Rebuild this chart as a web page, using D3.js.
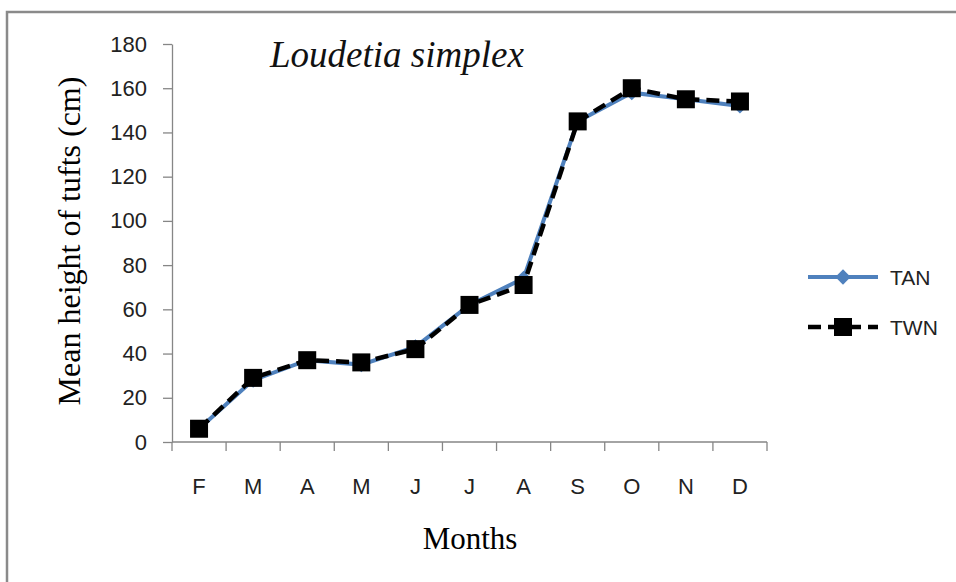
<!DOCTYPE html>
<html>
<head>
<meta charset="utf-8">
<script src="https://cdn.jsdelivr.net/npm/d3@7"></script>
<style>
  html, body { margin: 0; padding: 0; background: #fff; }
  svg { display: block; }
</style>
</head>
<body>
<div id="chart"></div>
<script>
// Data
const months = ["F", "M", "A", "M", "J", "J", "A", "S", "O", "N", "D"];
const tanValues = [6, 28, 37, 35, 43, 62, 74, 145, 158, 155, 152];
const twnValues = [6, 29, 37, 36, 42, 62, 71, 145, 160, 155, 154];
const yTicks = [0, 20, 40, 60, 80, 100, 120, 140, 160, 180];
const seriesNames = ["TAN", "TWN"];

const width = 956, height = 582;
const plot = { left: 172, right: 767, top: 44, bottom: 442 };

const svg = d3.select("#chart").append("svg")
  .attr("width", width)
  .attr("height", height);

// outer frame (only top and left edges visible)
svg.append("rect")
  .attr("x", 7).attr("y", 12)
  .attr("width", 980).attr("height", 600)
  .attr("fill", "none")
  .attr("stroke", "#8a8a8a")
  .attr("stroke-width", 2.5);

// scales
const x = d3.scaleBand()
  .domain(d3.range(months.length))
  .range([plot.left, plot.right]);

const y = d3.scaleLinear()
  .domain([0, 180])
  .range([plot.bottom, plot.top]);

const axisColor = "#868686";
const sansFont = "'Liberation Sans', Arial, sans-serif";
const serifFont = "'Liberation Serif', 'Times New Roman', serif";

// y axis
const yAxis = svg.append("g")
  .attr("transform", `translate(${plot.left},0)`)
  .call(d3.axisLeft(y).tickValues(yTicks).tickSize(9).tickSizeOuter(0).tickPadding(16));
yAxis.select(".domain").attr("stroke", axisColor).attr("stroke-width", 1.3);
yAxis.selectAll(".tick line").attr("stroke", axisColor).attr("stroke-width", 1.3);
yAxis.selectAll("text")
  .attr("fill", "#222")
  .style("font-family", sansFont)
  .style("font-size", "22px");

// x axis (labels centred in bands, ticks on band edges)
const xAxis = svg.append("g")
  .attr("transform", `translate(0,${plot.bottom})`)
  .call(d3.axisBottom(x).tickSize(0).tickPadding(36).tickFormat(i => months[i]));
xAxis.select(".domain").remove();
xAxis.selectAll("text")
  .attr("fill", "#222")
  .style("font-family", sansFont)
  .style("font-size", "22px");

svg.append("line")
  .attr("x1", plot.left).attr("x2", plot.right)
  .attr("y1", plot.bottom).attr("y2", plot.bottom)
  .attr("stroke", axisColor).attr("stroke-width", 1.3);

const edges = d3.range(months.length).map(i => x(i)).concat([x(months.length - 1) + x.bandwidth()]);
svg.append("g").selectAll("line")
  .data(edges)
  .enter()
  .append("line")
  .attr("x1", d => d).attr("x2", d => d)
  .attr("y1", plot.bottom).attr("y2", plot.bottom + 9)
  .attr("stroke", axisColor).attr("stroke-width", 1.3);

// axis titles
svg.append("text")
  .attr("transform", "translate(80,241) rotate(-90)")
  .attr("text-anchor", "middle")
  .style("font-family", serifFont)
  .style("font-size", "32px")
  .attr("fill", "#000")
  .text("Mean height of tufts (cm)");

svg.append("text")
  .attr("x", 470)
  .attr("y", 549)
  .attr("text-anchor", "middle")
  .style("font-family", serifFont)
  .style("font-size", "31px")
  .attr("fill", "#000")
  .text("Months");

// title inside the plot
svg.append("text")
  .attr("x", 270)
  .attr("y", 67)
  .style("font-family", serifFont)
  .style("font-style", "italic")
  .style("font-size", "37px")
  .attr("fill", "#111")
  .text("Loudetia simplex");

// lines
const line = d3.line()
  .x((d, i) => x(i) + x.bandwidth() / 2)
  .y(d => y(d));

const tanColor = "#4F81BD";

svg.append("path")
  .datum(tanValues)
  .attr("d", line)
  .attr("fill", "none")
  .attr("stroke", tanColor)
  .attr("stroke-width", 4);

const diamond = d3.symbol().type(d3.symbolDiamond2).size(150);

svg.append("g").selectAll("path")
  .data(tanValues)
  .enter()
  .append("path")
  .attr("d", diamond)
  .attr("transform", (d, i) => `translate(${x(i) + x.bandwidth() / 2},${y(d)})`)
  .attr("fill", tanColor);

svg.append("path")
  .datum(twnValues)
  .attr("d", line)
  .attr("fill", "none")
  .attr("stroke", "#000")
  .attr("stroke-width", 4.5)
  .attr("stroke-dasharray", "13,7");

const sq = 18;
svg.append("g").selectAll("rect")
  .data(twnValues)
  .enter()
  .append("rect")
  .attr("x", (d, i) => x(i) + x.bandwidth() / 2 - sq / 2)
  .attr("y", d => y(d) - sq / 2)
  .attr("width", sq)
  .attr("height", sq)
  .attr("fill", "#000");

// legend
const legend = svg.append("g");
const legendY = [277, 327];

legend.append("line")
  .attr("x1", 808).attr("x2", 878)
  .attr("y1", legendY[0]).attr("y2", legendY[0])
  .attr("stroke", tanColor).attr("stroke-width", 4);
legend.append("path")
  .attr("d", diamond)
  .attr("transform", `translate(843,${legendY[0]})`)
  .attr("fill", tanColor);

legend.append("line")
  .attr("x1", 808).attr("x2", 878)
  .attr("y1", legendY[1]).attr("y2", legendY[1])
  .attr("stroke", "#000").attr("stroke-width", 4.5)
  .attr("stroke-dasharray", "13,7");
legend.append("rect")
  .attr("x", 843 - sq / 2).attr("y", legendY[1] - sq / 2)
  .attr("width", sq).attr("height", sq)
  .attr("fill", "#000");

legend.selectAll("text")
  .data(seriesNames)
  .enter()
  .append("text")
  .attr("x", 890)
  .attr("y", (d, i) => legendY[i] + 8)
  .style("font-family", sansFont)
  .style("font-size", "21px")
  .attr("fill", "#222")
  .text(d => d);
</script>
</body>
</html>
